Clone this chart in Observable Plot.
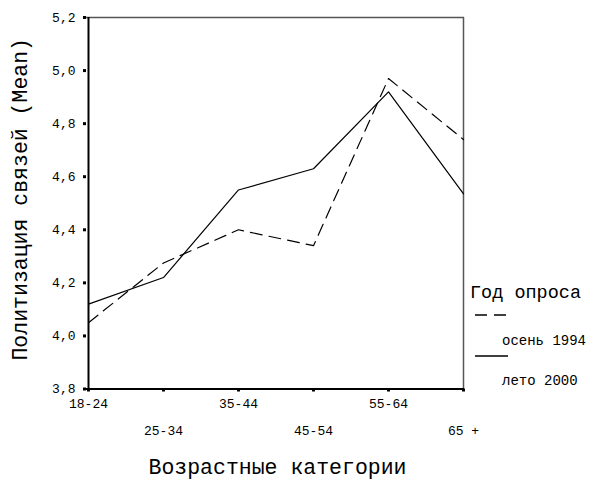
<!DOCTYPE html>
<html>
<head>
<meta charset="utf-8">
<script src="https://cdn.jsdelivr.net/npm/d3@7"></script>
<script src="https://cdn.jsdelivr.net/npm/@observablehq/plot@0.6"></script>
<style>
  html, body { margin: 0; padding: 0; background: #fff; }
  #wrap { position: relative; width: 590px; height: 486px; }
  #legend { position: absolute; left: 0; top: 0; pointer-events: none; }
</style>
</head>
<body>
<div id="wrap"></div>
<script>
// ---- data ----
const ages = ["18-24", "25-34", "35-44", "45-54", "55-64", "65 +"];
const autumn1994 = [4.05, 4.275, 4.40, 4.34, 4.97, 4.74];
const summer2000 = [4.12, 4.22, 4.55, 4.63, 4.92, 4.535];
const seriesNames = ["осень 1994", "лето 2000"];
const yTicks = [3.8, 4.0, 4.2, 4.4, 4.6, 4.8, 5.0, 5.2];
const xTitle = "Возрастные категории";
const yTitle = "Политизация связей (Mean)";
const legendTitle = "Год опроса";

const rows1994 = ages.map((a, i) => ({age: a, value: autumn1994[i], series: seriesNames[0]}));
const rows2000 = ages.map((a, i) => ({age: a, value: summer2000[i], series: seriesNames[1]}));
const evenAges = ages.filter((d, i) => i % 2 === 0);
const oddAges = ages.filter((d, i) => i % 2 === 1);
const fmt = d => d.toFixed(1).replace(".", ",");
const FONT = "'Liberation Mono', 'Courier New', monospace";

const chart = Plot.plot({
  width: 590,
  height: 486,
  marginLeft: 86,
  marginRight: 126,
  marginTop: 17,
  marginBottom: 97.5,
  style: {fontFamily: FONT, color: "#000", background: "#fff"},
  x: {type: "point", domain: ages, padding: 0},
  y: {domain: [3.8, 5.2]},
  marks: [
    Plot.ruleY([yTicks[yTicks.length - 1]], {stroke: "#555", strokeWidth: 1.5}),
    Plot.ruleX([ages[ages.length - 1]], {stroke: "#555", strokeWidth: 1.5}),
    Plot.ruleY([yTicks[0]], {stroke: "#000", strokeWidth: 2}),
    Plot.ruleX([ages[0]], {stroke: "#000", strokeWidth: 2}),
    Plot.axisY({ticks: yTicks, tickFormat: fmt, tickSize: 3, tickPadding: 8, strokeWidth: 3, fontSize: 13, label: null}),
    Plot.axisX({ticks: evenAges, tickSize: 3, tickPadding: 7, strokeWidth: 3, fontSize: 13, label: null}),
    Plot.axisX({ticks: oddAges, tickSize: 3, tickPadding: 34, strokeWidth: 3, fontSize: 13, label: null}),
    Plot.line(rows1994, {x: "age", y: "value", stroke: "#000", strokeWidth: 1.2, strokeDasharray: "12,7"}),
    Plot.line(rows2000, {x: "age", y: "value", stroke: "#000", strokeWidth: 1.2}),
    Plot.text([yTitle], {frameAnchor: "left", textAnchor: "middle", rotate: -90, dx: -66, dy: -4, fontSize: 21.5, fill: "#000"}),
    Plot.text([xTitle], {frameAnchor: "bottom", dx: 2, dy: 85, fontSize: 21.5, fill: "#000"})
  ]
});
document.getElementById("wrap").appendChild(chart);

// ---- legend (overlay) ----
const leg = d3.select("#wrap").append("svg")
  .attr("id", "legend").attr("width", 590).attr("height", 486)
  .style("font-family", FONT);
leg.append("text").attr("x", 470).attr("y", 298).attr("font-size", 18.5).text(legendTitle);
const items = [
  {name: seriesNames[0], dash: "12,7", ly: 315, ty: 345},
  {name: seriesNames[1], dash: null, ly: 356, ty: 385}
];
items.forEach(it => {
  leg.append("line").attr("x1", 475).attr("x2", 508).attr("y1", it.ly).attr("y2", it.ly)
    .attr("stroke", "#000").attr("stroke-width", 1.3)
    .attr("stroke-dasharray", it.dash);
  leg.append("text").attr("x", 502).attr("y", it.ty).attr("font-size", 14).text(it.name);
});
</script>
</body>
</html>
